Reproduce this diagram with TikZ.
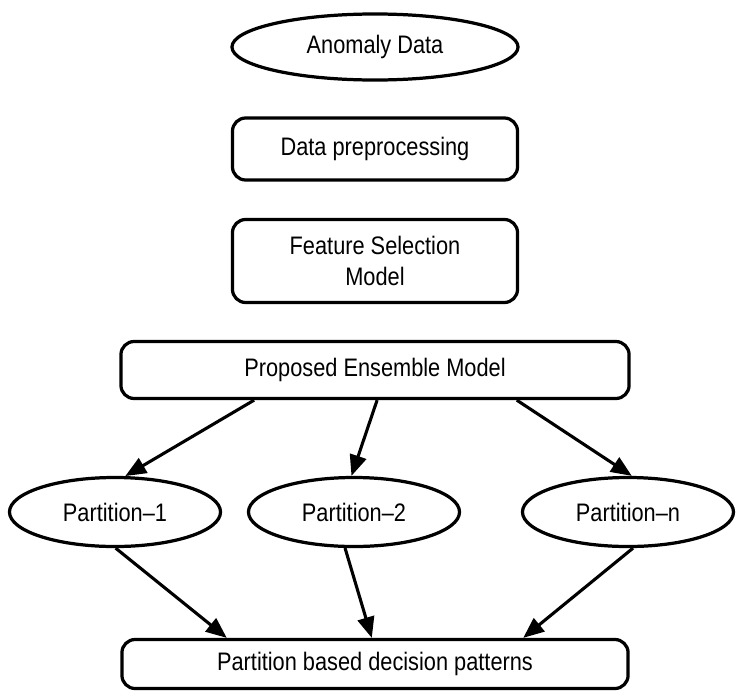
\documentclass[tikz,border=0pt]{standalone}
\usepackage{fontspec}
\setmainfont[FakeStretch=0.86]{Liberation Sans}
\usetikzlibrary{shapes.geometric,arrows.meta}

\begin{document}
\begin{tikzpicture}
    [x=0.025cm, y=-0.025cm,
    every node/.style={font=\fontsize{18pt}{21.6pt}\selectfont, inner sep=0pt},
    EllNode/.style={ellipse, draw=black, line width=2.3pt},
    BoxNode/.style={rectangle, rounded corners=0.33cm, draw=black, line width=2.3pt, align=center},
    FlowArrow/.style={-{Triangle[length=0.52cm, width=0.42cm]}, line width=2.2pt}]
    \useasboundingbox (0,0) rectangle (737,691);
    \node[EllNode, minimum width=7.15cm, minimum height=1.65cm] (ad) at (375,47){Anomaly Data};
    \node[BoxNode, minimum width=7.125cm, minimum height=1.55cm] (dp) at (375,149){Data preprocessing};
    \node[BoxNode, minimum width=7.125cm, minimum height=2.075cm] (fs) at (375,261){Feature Selection\\Model};
    \node[BoxNode, minimum width=12.7cm, minimum height=1.425cm] (pem) at (375,370){Proposed Ensemble Model};
    \node[EllNode, minimum width=5.275cm, minimum height=1.725cm] (p1) at (115,512){Partition--1};
    \node[EllNode, minimum width=5.275cm, minimum height=1.725cm] (p2) at (354,512){Partition--2};
    \node[EllNode, minimum width=5.275cm, minimum height=1.725cm] (pn) at (628,512){Partition--n};
    \node[BoxNode, minimum width=12.65cm, minimum height=1.225cm] (pdp) at (375,664){Partition based decision patterns};
    \draw[FlowArrow] (pem.-166) -- (p1.74);
    \draw[FlowArrow] (pem.-86) -- (p2.94);
    \draw[FlowArrow] (pem.-12) -- (pn.84);
    \draw[FlowArrow] (p1.-89) -- (pdp.170);
    \draw[FlowArrow] (p2.-104) -- (pdp.97);
    \draw[FlowArrow] (pn.-82) -- (pdp.10);
    \end{tikzpicture}
\end{document}
